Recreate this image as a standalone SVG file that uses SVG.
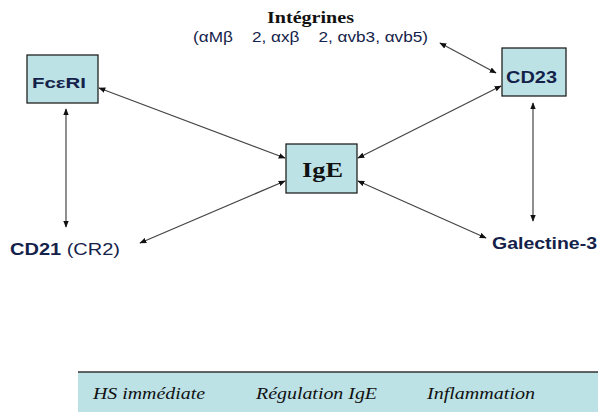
<svg xmlns="http://www.w3.org/2000/svg" width="598" height="412" viewBox="0 0 598 412">
<style>
.box{fill:#bce2e6;stroke:#222;stroke-width:1.3}
.c{stroke:#444;stroke-width:1.2;fill:none;marker-start:url(#ah);marker-end:url(#ah)}
.lbl{font-family:"Liberation Sans",Arial,sans-serif;font-weight:bold;fill:#14224a}
.ser{font-family:"Liberation Serif","Times New Roman",serif}
.it{font-family:"Liberation Serif","Times New Roman",serif;font-style:italic;font-size:16px;fill:#111}
</style>
<defs>
<marker id="ah" viewBox="0 0 10 10" refX="9" refY="5" markerWidth="7" markerHeight="7" orient="auto-start-reverse" markerUnits="userSpaceOnUse">
<path d="M0,1 L10,5 L0,9 z" fill="#111"/>
</marker>
</defs>
<g id="connectors">
<line class="c" x1="99" y1="88" x2="285" y2="158"/>
<line class="c" x1="66" y1="109" x2="66" y2="227"/>
<line class="c" x1="140" y1="243" x2="285" y2="181"/>
<line class="c" x1="501" y1="86" x2="358" y2="158"/>
<line class="c" x1="533" y1="103" x2="533" y2="221"/>
<line class="c" x1="486" y1="238" x2="358" y2="181"/>
<line class="c" x1="440" y1="43" x2="496" y2="73"/>
</g>
<g id="integrines">
<text class="ser" x="267" y="23" font-size="17" font-weight="bold" fill="#111" textLength="87" lengthAdjust="spacingAndGlyphs">Intégrines</text>
<text x="193" y="42" font-family="Liberation Sans,Arial,sans-serif" font-size="14" fill="#14224a" xml:space="preserve" textLength="235" lengthAdjust="spacingAndGlyphs">(αMβ    2, αxβ    2, αvb3, αvb5)</text>
</g>
<g id="fceri">
<rect class="box" x="27" y="55" width="71" height="48"/>
<text class="lbl" x="32" y="88" font-size="15" textLength="54" lengthAdjust="spacingAndGlyphs">FcεRI</text>
</g>
<g id="cd23">
<rect class="box" x="502" y="48" width="64" height="48"/>
<text class="lbl" x="506" y="83" font-size="17" textLength="51" lengthAdjust="spacingAndGlyphs">CD23</text>
</g>
<g id="ige">
<rect class="box" x="286" y="144" width="71" height="49"/>
<text class="ser" x="302" y="177" font-size="22" font-weight="bold" fill="#111" textLength="41" lengthAdjust="spacingAndGlyphs">IgE</text>
</g>
<g id="cd21">
<text class="lbl" x="10" y="255" font-size="16" textLength="110" lengthAdjust="spacingAndGlyphs">CD21 <tspan font-weight="normal">(CR2)</tspan></text>
</g>
<g id="galectine">
<text class="lbl" x="492" y="249" font-size="16" textLength="105" lengthAdjust="spacingAndGlyphs">Galectine-3</text>
</g>
<g id="legend">
<rect x="78" y="372" width="530" height="44" fill="#bce2e6"/>
<line x1="78" y1="372" x2="598" y2="372" stroke="#333" stroke-width="1.5"/>
<text class="it" x="93" y="399" textLength="112" lengthAdjust="spacingAndGlyphs">HS immédiate</text>
<text class="it" x="256" y="399" textLength="121" lengthAdjust="spacingAndGlyphs">Régulation IgE</text>
<text class="it" x="427" y="399" textLength="108" lengthAdjust="spacingAndGlyphs">Inflammation</text>
</g>
</svg>
